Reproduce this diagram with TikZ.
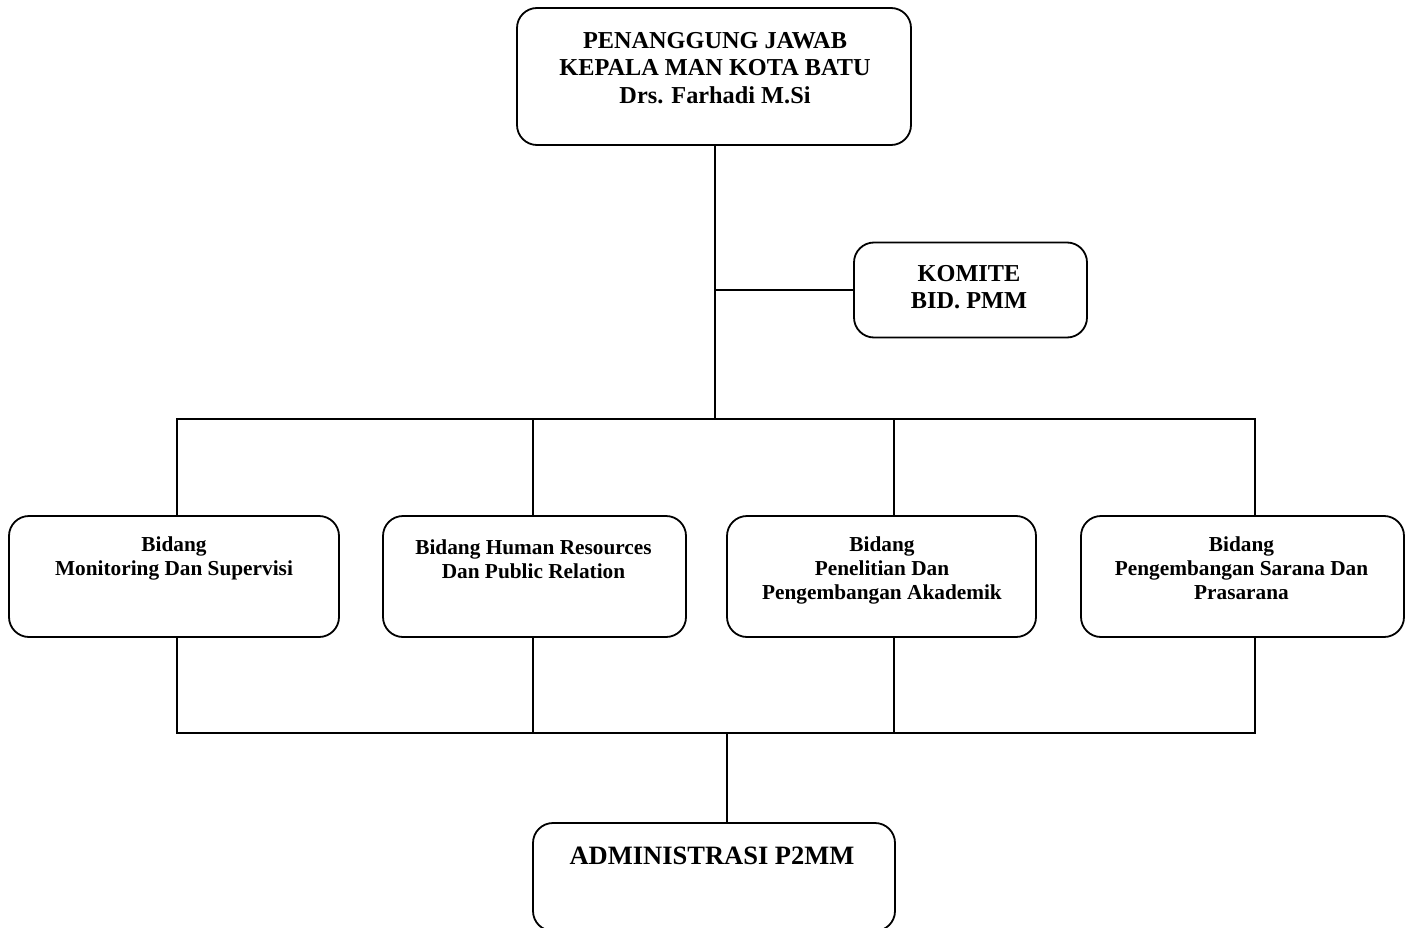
\documentclass[tikz,border=0pt]{standalone}
\usepackage{fontspec}
\setmainfont{Liberation Serif}
\usepackage{tikz}

\tikzset{
  kotak/.style={draw, rounded corners=20pt, line width=1.8pt, inner sep=0pt, minimum height=121},
  teks/.style={anchor=north, inner sep=0pt, align=center},
  besar/.style={font=\bfseries\fontsize{24.3}{27.5}\selectfont},
  kecil/.style={font=\bfseries\fontsize{21.3}{24}\selectfont},
}

\begin{document}
\begin{tikzpicture}[x=1pt, y=-1pt, line width=1.6pt, line cap=rect]
    \useasboundingbox (0,0) rectangle (1410,928);

    % kotak utama
    \node[kotak, minimum width=394, minimum height=137] (pj) at (714,76.5) {};
    \node[teks, besar] (pjt) at (715,31.5) {PENANGGUNG JAWAB\\KEPALA MAN KOTA BATU\\Drs. Farhadi M.Si};
    \node[kotak, minimum width=233, minimum height=95] (komite) at (970.5,290) {};
    \node[teks, besar] (komitet) at (969,264.5) {KOMITE\\BID. PMM};

    % bidang
    \foreach \n/\cx/\w/\tx/\ty/\isi in {
        bms/174/330/174/536/{Bidang\\Monitoring Dan Supervisi},
        bhr/534.5/303/533.5/539/{Bidang Human Resources\\Dan Public Relation},
        bpp/881.5/309/882/536/{Bidang\\Penelitian Dan\\Pengembangan Akademik},
        bsp/1242.5/323/1241.5/536/{Bidang\\Pengembangan Sarana Dan\\Prasarana}}{
        \node[kotak, minimum width=\w] (\n) at (\cx,576.5) {};
        \node[teks, kecil] (\n t) at (\tx,\ty) {\isi};
    }

    \node[kotak, minimum width=362, minimum height=108] (adm) at (714,877) {};
    \node[teks, font=\bfseries\fontsize{26.5}{30}\selectfont] (admt) at (712,846) {ADMINISTRASI P2MM};

    % garis
    \coordinate (atas) at (715,419);
    \coordinate (bawah) at (727,733);
    \draw (pj.south -| atas) -- (atas);
    \draw (atas |- komite.west) -- (komite.west);
    \foreach \x/\n in {177/bms, 533/bhr, 894/bpp, 1255/bsp}{
        \coordinate (t\n) at (\x,419);
        \coordinate (u\n) at (\x,733);
        \draw (t\n) -- (t\n |- \n.north);
        \draw (\n.south -| u\n) -- (u\n);
    }
    \draw (tbms) -- (tbsp);
    \draw (ubms) -- (ubsp);
    \draw (bawah) -- (bawah |- adm.north);
\end{tikzpicture}
\end{document}
